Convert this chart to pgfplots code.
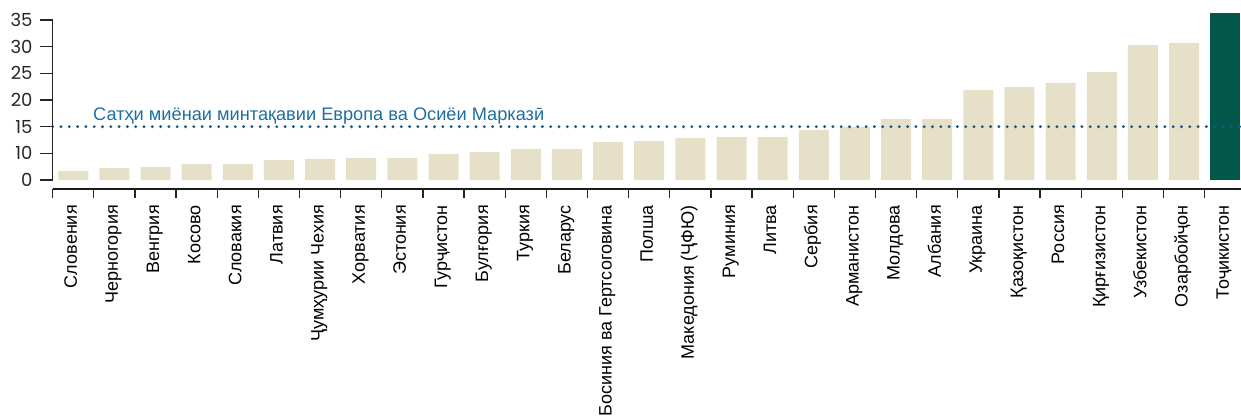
\documentclass[border=0pt]{standalone}
\usepackage{pgfplots}
\pgfplotsset{compat=1.18}
\usepackage{fontspec}
\setmainfont{Liberation Sans}
\newfontfamily\tickfont{Poppins}
\definecolor{barbeige}{HTML}{E6E0C8}
\definecolor{tjgreen}{HTML}{00574A}
\definecolor{avgblue}{HTML}{1F6E9E}

\begin{document}
\begin{tikzpicture}
\begin{axis}[
    name=ax,
    scale only axis,
    width=1188.3pt, height=180pt,
    xmin=-0.5, xmax=28.385,
    ymin=5, ymax=38.75,
    axis line style={draw=none},
    clip mode=individual,
    % the source chart labels its bottom tick "0" although it sits at 5
    ytick={5,10,...,35},
    yticklabels={0,10,15,20,25,30,35},
    ytick align=outside,
    ytick style={line width=1.3pt, color=black!85},
    major tick length=13pt,
    yticklabel style={font=\tickfont\fontsize{18}{18}\selectfont, inner sep=0pt, text=black!85},
    yticklabel shift=7pt,
    xtick={0,...,28},
    xticklabels={Словения,Черногория,Венгрия,Косово,Словакия,Латвия,Ҷумҳурии Чехия,Хорватия,Эстония,Гурҷистон,Булғория,Туркия,Беларус,Босиния ва Гертсоговина,Полша,Македония (ҶФЮ),Руминия,Литва,Сербия,Арманистон,Молдова,Албания,Украина,Қазоқистон,Россия,Қирғизистон,Узбекистон,Озарбойҷон,Тоҷикистон},
    xtick style={draw=none},
    xticklabel style={font=\fontsize{18}{18}\selectfont, rotate=90, anchor=east,
        text height=0.716em, text depth=0pt, inner sep=0pt},
    xticklabel shift=25pt,
]
% other countries
\addplot[ybar, bar width=30pt, bar shift=0pt, fill=barbeige, draw=none] coordinates {
    (0,6.7) (1,7.25) (2,7.4) (3,8.0) (4,8.0) (5,8.75) (6,8.9) (7,9.1) (8,9.1)
    (9,9.9) (10,10.25) (11,10.8) (12,10.8) (13,12.1) (14,12.3) (15,12.9)
    (16,13.1) (17,13.1) (18,14.4) (19,14.9) (20,16.4) (21,16.4) (22,21.9)
    (23,22.4) (24,23.2) (25,25.25) (26,30.3) (27,30.7)
};
% Tajikistan
\addplot[ybar, bar width=30pt, bar shift=0pt, fill=tjgreen, draw=none] coordinates {
    (28,36.3)
};
% regional average
\addplot[avgblue!80!black, line width=3.2pt, line cap=round, dash pattern=on 0pt off 8.3pt]
    coordinates {(-0.5,15) (28.385,15)};
\node[anchor=base west, inner sep=0pt, text=avgblue, font=\fontsize{18.2}{18}\selectfont]
    at (axis cs:0.48,16.12) {Сатҳи миёнаи минтақавии Европа ва Осиёи Марказӣ};

% axis lines
\draw[line width=1.3pt, black!85] (axis cs:-0.5,5) -- (axis cs:-0.5,35);
\draw[line width=2pt, black!90] ([yshift=-9pt]axis cs:-0.5,5) -- ([yshift=-9pt]axis cs:28.385,5);
\pgfplotsinvokeforeach{-0.5,0.5,...,27.5}{
    \draw[line width=1.3pt, black!85] ([yshift=-9pt]axis cs:#1,5) -- ++(0pt,-9pt);
}
\end{axis}
\pgfresetboundingbox
\path[use as bounding box] ([xshift=-52.7pt,yshift=-239pt]ax.south west) rectangle (ax.north east);
\end{tikzpicture}
\end{document}
